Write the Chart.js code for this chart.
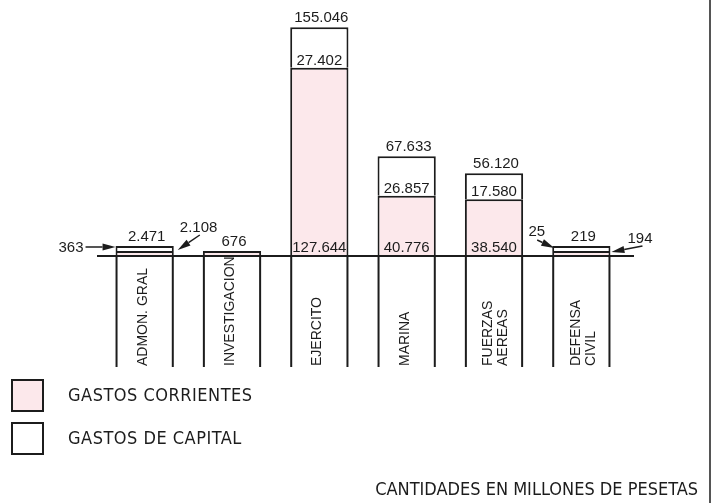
<!DOCTYPE html>
<html>
<head>
<meta charset="utf-8">
<script src="https://cdn.jsdelivr.net/npm/chart.js@4.4.1/dist/chart.umd.min.js"></script>
<style>
    body { margin: 0; background: #ffffff; }
    canvas { display: block; }
</style>
</head>
<body>
<canvas id="myChart" width="716" height="503"></canvas>
<script>
// millones de pesetas
const categories = [['ADMON. GRAL'], ['INVESTIGACION'], ['EJERCITO'], ['MARINA'], ['FUERZAS', 'AEREAS'], ['DEFENSA', 'CIVIL']];
const gastosCorrientes = [2108, 676, 127644, 40776, 38540, 194];
const gastosCapital = [363, null, 27402, 26857, 17580, 25];
const seriesNames = ['GASTOS CORRIENTES', 'GASTOS DE CAPITAL'];
const footnote = 'CANTIDADES EN MILLONES DE PESETAS';

const ink = '#1c1c1c';
const pink = '#fce8eb';
const numFont = '15px "Liberation Sans", Arial, sans-serif';
const catFont = '14px "Liberation Sans", Arial, sans-serif';
const legendFont = '18px "Liberation Sans Narrow", "DejaVu Sans Condensed", "Liberation Sans", sans-serif';

function fmt(n) {
    return String(n).replace(/\B(?=(\d{3})+(?!\d))/g, '.');
}

function arrow(ctx, x1, y1, x2, y2) {
    const a = Math.atan2(y2 - y1, x2 - x1);
    const len = 13, half = 3.5;
    ctx.beginPath();
    ctx.moveTo(x1, y1);
    ctx.lineTo(x2 - Math.cos(a) * len, y2 - Math.sin(a) * len);
    ctx.stroke();
    ctx.beginPath();
    ctx.moveTo(x2, y2);
    ctx.lineTo(x2 - Math.cos(a) * len - Math.sin(a) * half, y2 - Math.sin(a) * len + Math.cos(a) * half);
    ctx.lineTo(x2 - Math.cos(a) * len + Math.sin(a) * half, y2 - Math.sin(a) * len - Math.cos(a) * half);
    ctx.closePath();
    ctx.fill();
}

const drawingPlugin = {
    id: 'drawingPlugin',
    afterDatasetsDraw(chart) {
        const { ctx, chartArea } = chart;
        const corr = chart.getDatasetMeta(0).data;
        const cap = chart.getDatasetMeta(1).data;
        const base = chartArea.bottom;

        ctx.save();
        ctx.strokeStyle = ink;
        ctx.fillStyle = ink;

        // baseline
        ctx.lineWidth = 2;
        ctx.beginPath();
        ctx.moveTo(chartArea.left - 4, base);
        ctx.lineTo(chartArea.right + 9, base);
        ctx.stroke();

        // right border of the page
        ctx.lineWidth = 1.5;
        ctx.beginPath();
        ctx.moveTo(710, 0);
        ctx.lineTo(710, 503);
        ctx.stroke();

        categories.forEach((lines, i) => {
            const bar = corr[i];
            const left = bar.x - bar.width / 2;
            const right = bar.x + bar.width / 2;
            const top = gastosCapital[i] != null ? cap[i].y : bar.y;

            // label box under the baseline
            ctx.lineWidth = 2;
            ctx.beginPath();
            ctx.moveTo(left + 1, base);
            ctx.lineTo(left + 1, base + 111);
            ctx.moveTo(right - 1, base);
            ctx.lineTo(right - 1, base + 111);
            ctx.stroke();

            ctx.save();
            ctx.translate(bar.x + (lines.length > 1 ? 2 : -2), base + 110);
            ctx.rotate(-Math.PI / 2);
            ctx.font = catFont;
            ctx.textAlign = 'left';
            ctx.textBaseline = 'middle';
            lines.forEach((t, k) => {
                ctx.fillText(t, 0, (k - (lines.length - 1) / 2) * 15);
            });
            ctx.restore();

            // values
            ctx.font = numFont;
            ctx.textAlign = 'center';
            ctx.textBaseline = 'alphabetic';
            const total = gastosCorrientes[i] + (gastosCapital[i] || 0);
            ctx.fillText(fmt(total), bar.x + 2, top - 5);

            if (gastosCorrientes[i] > 10000) {
                ctx.fillText(fmt(gastosCapital[i]), bar.x, bar.y - 3);
                ctx.fillText(fmt(gastosCorrientes[i]), bar.x, base - 4);
            } else if (i === 0) {
                ctx.lineWidth = 1.5;
                ctx.textAlign = 'right';
                ctx.fillText(fmt(gastosCapital[i]), left - 32, top + 6);
                arrow(ctx, left - 30, top + 1, left, top + 1);
                ctx.textAlign = 'left';
                ctx.fillText(fmt(gastosCorrientes[i]), right + 6, top - 14);
                arrow(ctx, right + 26, top - 11, right + 4, base - 6);
            } else if (i === 5) {
                ctx.lineWidth = 1.5;
                ctx.textAlign = 'right';
                ctx.fillText(fmt(gastosCapital[i]), left - 7, top - 10);
                arrow(ctx, left - 15, top - 6, left + 2, top + 2);
                ctx.textAlign = 'left';
                ctx.fillText(fmt(gastosCorrientes[i]), right + 17, top - 3);
                arrow(ctx, right + 32, top, right + 1, base - 4);
            }
        });

        // legend
        ctx.letterSpacing = '0.5px';
        chart.data.datasets.forEach((ds, k) => {
            const y = 380 + k * 43;
            ctx.fillStyle = ds.backgroundColor;
            ctx.fillRect(12, y, 31, 31);
            ctx.lineWidth = 2;
            ctx.strokeRect(12, y, 31, 31);
            ctx.fillStyle = ink;
            ctx.font = legendFont;
            ctx.textAlign = 'left';
            ctx.textBaseline = 'middle';
            ctx.fillText(ds.label, 68, y + 16);
        });

        ctx.letterSpacing = '0px';
        ctx.font = legendFont;
        ctx.textAlign = 'right';
        ctx.textBaseline = 'middle';
        ctx.fillText(footnote, 698, 490);
        ctx.restore();
    }
};

const ctx1 = document.querySelector('#myChart').getContext('2d');

new Chart(ctx1, {
    type: 'bar',
    data: {
        labels: categories,
        datasets: [{
            label: seriesNames[0],
            data: gastosCorrientes,
            backgroundColor: pink,
            borderColor: ink,
            borderWidth: 2,
            minBarLength: 5,
            barPercentage: 0.667,
            categoryPercentage: 1
        }, {
            label: seriesNames[1],
            data: gastosCapital,
            backgroundColor: '#ffffff',
            borderColor: ink,
            borderWidth: 2,
            minBarLength: 5,
            barPercentage: 0.667,
            categoryPercentage: 1
        }]
    },
    options: {
        responsive: false,
        animation: false,
        devicePixelRatio: 1,
        layout: { padding: { left: 101, right: 91, top: 20, bottom: 247 } },
        plugins: {
            legend: { display: false },
            tooltip: { enabled: false }
        },
        scales: {
            x: { display: false, stacked: true },
            y: { display: false, stacked: true, min: 0, max: 160000 }
        }
    },
    plugins: [drawingPlugin]
});
</script>
</body>
</html>
